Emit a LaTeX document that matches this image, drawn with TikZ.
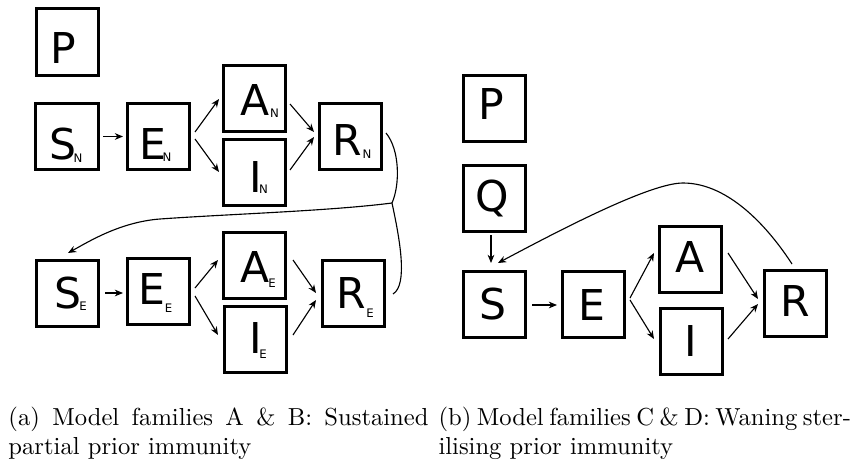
\documentclass[tikz,border=0pt]{standalone}
\usepackage{fontspec}
\newfontfamily\boxfont{DejaVu Sans}
\usetikzlibrary{arrows.meta,calc}
\begin{document}
\begin{tikzpicture}[x=0.4pt,y=-0.4pt,
  box/.style={draw,line width=1.2pt,minimum width=24.8pt,minimum height=26.4pt,inner sep=0pt,outer sep=0.6pt},
  big/.style={inner sep=0pt,anchor=base,font=\boxfont\fontsize{17}{17}\selectfont},
  small/.style={inner sep=0pt,anchor=base,font=\boxfont\fontsize{4.7}{4.7}\selectfont},
  arr/.style={line width=0.45pt,-{Stealth[length=3.3pt,width=2.7pt]}},
  cur/.style={line width=0.45pt},
  captxt/.style={inner sep=0pt,anchor=base west,font=\fontsize{9.84}{11.8}\selectfont}]
\useasboundingbox (0,0) rectangle (854,460);

% ---------- left panel ----------
\node[box] (P1) at (67.5,42) {};
\node[box] (SN) at (67,136.5) {};
\node[box] (EN) at (158.5,136.5) {};
\node[box] (AN) at (254.5,98.5) {};
\node[box] (IN) at (254.5,172.5) {};
\node[box] (RN) at (350,136.5) {};
\node[box] (SE) at (67.5,293) {};
\node[box] (EE) at (158.5,291.5) {};
\node[box] (AE) at (254.5,265.5) {};
\node[box] (IE) at (255.5,339.5) {};
\node[box] (RE) at (353.5,293) {};

\node[big] (tP1) at (63,64) {P};
\node[big] (tSN) at (62.5,159) {S};
\node[small] (sSN) at (78,162) {N};
\node[big] (tEN) at (152.5,159) {E};
\node[small] (sEN) at (167,161) {N};
\node[big] (tAN) at (255.5,115) {A};
\node[small] (sAN) at (274.5,117) {N};
\node[big] (tIN) at (255.5,192) {I};
\node[small] (sIN) at (263.5,193) {N};
\node[big] (tRN) at (347,155) {R};
\node[small] (sRN) at (367,158) {N};
\node[big] (tSE) at (67.5,308) {S};
\node[small] (sSE) at (83,310) {E};
\node[big] (tEE) at (151.5,304) {E};
\node[small] (sEE) at (168.5,312) {E};
\node[big] (tAE) at (255,282) {A};
\node[small] (sAE) at (272,287) {E};
\node[big] (tIE) at (255.5,353) {I};
\node[small] (sIE) at (263,358) {E};
\node[big] (tRE) at (351.5,308) {R};
\node[small] (sRE) at (370,317) {E};

\draw[arr] ($(SN.east)+(3.5,0)$) -- ($(EN.west)+(-3,0)$);
\draw[arr] ($(EN.east)+(4,-4.5)$) -- ($(AN.west)+(-3,0.5)$);
\draw[arr] ($(EN.east)+(4,2.5)$) -- ($(IN.west)+(-3,-0.5)$);
\draw[arr] ($(AN.east)+(3,5.5)$) -- ($(RN.west)+(-3.5,-4.5)$);
\draw[arr] ($(IN.east)+(3,-2.5)$) -- ($(RN.west)+(-3.5,0.5)$);

\draw[arr] ($(SE.east)+(5,0)$) -- ($(EE.west)+(-3,1.5)$);
\draw[arr] ($(EE.east)+(4,-3.5)$) -- ($(AE.west)+(-4,-5.5)$);
\draw[arr] ($(EE.east)+(4,4.5)$) -- ($(IE.west)+(-5,-4.5)$);
\draw[arr] ($(AE.east)+(6,-5.5)$) -- ($(RE.west)+(-5,0)$);
\draw[arr] ($(IE.east)+(5,-4.5)$) -- ($(RE.west)+(-5,7)$);

\coordinate (J) at (392,203);
\draw[cur] ($(RN.east)+(3.5,-3.5)$) .. controls (400,150) and (400,185) .. (J);
\draw[cur] (J) .. controls (400,240) and (408,285) .. ($(RE.east)+(7,1)$);
\draw[arr] (J) .. controls (330,211) and (230,214) .. (160,219)
  .. controls (120,222) and (88,242) .. ($(SE.north)+(0.5,-5.5)$);

% ---------- right panel ----------
\node[box] (P2) at (494.5,108.5) {};
\node[box] (Q) at (494,198.5) {};
\node[box] (S) at (494,304.5) {};
\node[box] (E) at (593.5,304.5) {};
\node[box] (A) at (690.5,259) {};
\node[box] (I) at (691.5,341) {};
\node[box] (R) at (795,303.5) {};

\node[big] (tP2) at (491,119) {P};
\node[big] (tQ) at (492.5,211) {Q};
\node[big] (tS) at (493,319) {S};
\node[big] (tE) at (591.5,320) {E};
\node[big] (tA) at (690,272) {A};
\node[big] (tI) at (690.5,356) {I};
\node[big] (tR) at (795,316) {R};

\draw[arr] ($(Q.south)+(-3,2)$) -- ($(S.north)+(-3,-7)$);
\draw[arr] ($(S.east)+(5.5,0.5)$) -- ($(E.west)+(-4,0.5)$);
\draw[arr] ($(E.east)+(4,-6.5)$) -- ($(A.west)+(-4,-6)$);
\draw[arr] ($(E.east)+(4,-4.5)$) -- ($(I.west)+(-5,-2)$);
\draw[arr] ($(A.east)+(5,-6)$) -- ($(R.west)+(-4.5,-4.5)$);
\draw[arr] ($(I.east)+(4,-2)$) -- ($(R.west)+(-4.5,0.5)$);
\coordinate (T) at (683,183);
\draw[arr] ($(R.north)+(-3,-5)$) .. controls (770,230) and (730,183) .. (T)
  .. controls (650,183) and (560,230) .. ($(S.north)+(4,-7)$);

% ---------- captions ----------
\node[captxt] (capa) at (8,425) {\parbox[t]{168pt}{(a) Model families A \& B: Sustained\linebreak partial prior immunity}};
\node[captxt] (capb) at (438,425) {\parbox[t]{165pt}{(b) Model families C \& D: Waning ster-\linebreak ilising prior immunity}};
\end{tikzpicture}
\end{document}
